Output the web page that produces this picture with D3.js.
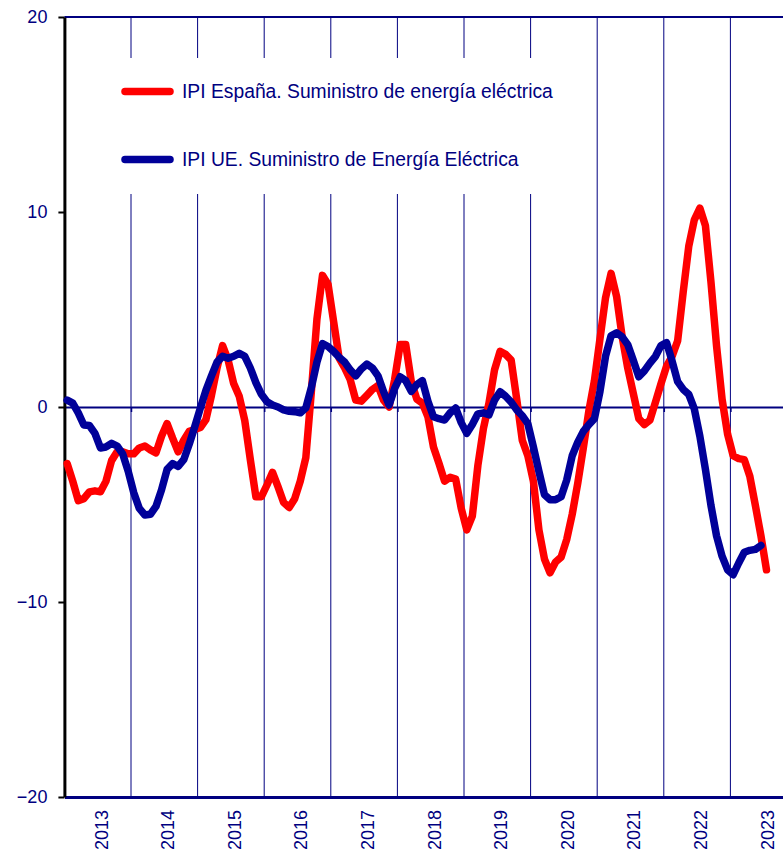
<!DOCTYPE html>
<html>
<head>
<meta charset="utf-8">
<script src="https://cdnjs.cloudflare.com/ajax/libs/d3/7.8.5/d3.min.js"></script>
<style>
  body { margin: 0; background: #fff; }
  text { font-family: "Liberation Sans", Arial, sans-serif; }
</style>
</head>
<body>
<div id="chart"></div>
<script>
// monthly series, Jan 2013 onwards (% variation)
var spain = [
  -2.9, -3.8, -4.8, -4.7, -4.35, -4.3, -4.35, -3.8, -2.75, -2.3, -2.3, -2.4,
  -2.4, -2.1, -2.0, -2.2, -2.35, -1.5, -0.85, -1.6, -2.3, -1.7, -1.25, -1.15,
  -1.05, -0.65, 0.6, 2.0, 3.15, 2.4, 1.2, 0.55, -0.7, -2.7, -4.6, -4.6,
  -4.0, -3.35, -4.1, -4.9, -5.15, -4.7, -3.8, -2.6, 0.8, 4.5, 6.75, 6.3,
  4.4, 2.5, 2.0, 1.4, 0.35, 0.3, 0.6, 0.9, 1.1, 0.35, 0.0, 1.4,
  3.2, 3.2, 1.3, 0.4, 0.2, -0.5, -2.05, -2.9, -3.8, -3.6, -3.7, -5.2,
  -6.3, -5.6, -3.0, -1.1, 0.2, 1.9, 2.85, 2.7, 2.4, 0.4, -1.7, -2.5,
  -3.8, -6.3, -7.8, -8.5, -7.95, -7.7, -6.8, -5.5, -3.9, -2.1, -0.2, 1.35,
  3.5, 5.6, 6.85, 5.66, 3.6, 2.0, 0.7, -0.6, -0.9, -0.67, 0.25, 1.2,
  2.1, 2.6, 3.4, 5.9, 8.25, 9.6, 10.2, 9.3, 6.4, 3.15, 0.4, -1.4,
  -2.5, -2.65, -2.7, -3.55, -5.05, -6.6, -8.35
];

var ue = [
  0.35, 0.2, -0.3, -0.92, -0.95, -1.35, -2.1, -2.05, -1.86, -2.0, -2.4, -3.3,
  -4.4, -5.2, -5.54, -5.5, -5.1, -4.25, -3.2, -2.9, -3.05, -2.7, -1.9, -1.0,
  -0.05, 0.85, 1.6, 2.3, 2.6, 2.5, 2.6, 2.75, 2.6, 2.0, 1.25, 0.65,
  0.27, 0.1, 0.0, -0.15, -0.22, -0.24, -0.3, -0.05, 1.0, 2.3, 3.25, 3.1,
  2.85, 2.55, 2.3, 1.9, 1.6, 1.95, 2.2, 2.0, 1.6, 0.8, 0.1, 0.95,
  1.55, 1.35, 0.8, 1.15, 1.35, 0.3, -0.5, -0.6, -0.67, -0.3, -0.05, -0.8,
  -1.35, -0.9, -0.35, -0.3, -0.4, 0.35, 0.78, 0.55, 0.25, -0.15, -0.45, -0.85,
  -2.05, -3.3, -4.5, -4.75, -4.75, -4.6, -3.75, -2.5, -1.8, -1.25, -0.9, -0.6,
  0.8, 2.6, 3.65, 3.8, 3.6, 3.2, 2.4, 1.55, 1.85, 2.25, 2.6, 3.15,
  3.3, 2.35, 1.3, 0.9, 0.65, -0.1, -1.5, -3.2, -5.05, -6.6, -7.65, -8.35,
  -8.6, -8.0, -7.45, -7.35, -7.3, -7.1
];

var years = [2013, 2014, 2015, 2016, 2017, 2018, 2019, 2020, 2021, 2022, 2023];
var yTicks = [-20, -10, 0, 10, 20];
var legendLabels = ["IPI España. Suministro de energía eléctrica",
                    "IPI UE. Suministro de Energía Eléctrica"];

var startYear = 2013;
var navy = "#000080";
var red = "#ff0000";
var blue = "#000099";

var svg = d3.select("#chart")
    .append("svg")
    .attr("width", 783)
    .attr("height", 856);

// plot runs past the right edge, like the original
var x = d3.scaleLinear()
    .domain([2013, 2024])
    .range([64.4, 797]);

var y = d3.scaleLinear()
    .domain([-20, 20])
    .range([797, 17]);

// ---- GRID (year boundaries) ---- //
svg.append("g")
    .selectAll("line")
    .data(years.slice(1))
    .enter().append("line")
    .attr("x1", function(d) { return x(d); })
    .attr("x2", function(d) { return x(d); })
    .attr("y1", y(20))
    .attr("y2", y(-20))
    .attr("stroke", navy)
    .attr("stroke-width", 1);

// top border
svg.append("line")
    .attr("x1", x(2013)).attr("x2", 783)
    .attr("y1", y(20)).attr("y2", y(20))
    .attr("stroke", navy).attr("stroke-width", 2);

// legend box hides the grid behind it
svg.append("rect")
    .attr("x", x(2013) + 2)
    .attr("y", 58)
    .attr("width", 510)
    .attr("height", 136)
    .attr("fill", "#fff");

// ---- ZERO LINE with small ticks ---- //
var zeroAxis = d3.axisBottom(x)
    .tickValues(years.slice(1))
    .tickSizeInner(5)
    .tickSizeOuter(0)
    .tickFormat("");

svg.append("g")
    .attr("transform", "translate(0," + y(0) + ")")
    .call(zeroAxis)
    .call(function(g) {
      g.select(".domain").attr("stroke", navy).attr("stroke-width", 2);
      g.selectAll(".tick line").attr("stroke", navy).attr("stroke-width", 1.5);
    });

// ---- BOTTOM AXIS: year labels in middle of each year ---- //
var bottomAxis = d3.axisBottom(x)
    .tickValues(years.map(function(d) { return d + 0.5; }))
    .tickSize(0)
    .tickFormat(function(d) { return String(Math.floor(d)); });

svg.append("g")
    .attr("transform", "translate(0," + y(-20) + ")")
    .call(bottomAxis)
    .call(function(g) {
      g.select(".domain").attr("stroke", navy).attr("stroke-width", 3);
      g.selectAll(".tick text")
        .attr("fill", navy)
        .attr("font-size", 18)
        .attr("text-anchor", "end")
        .attr("y", 0)
        .attr("dy", "0.36em")
        .attr("transform", "translate(3,13) rotate(-90)");
    });

// ---- LEFT AXIS ---- //
var leftAxis = d3.axisLeft(y)
    .tickValues(yTicks)
    .tickSizeInner(6)
    .tickSizeOuter(0)
    .tickPadding(11)
    .tickFormat(d3.format("d"));

svg.append("g")
    .attr("transform", "translate(" + x(2013) + ",0)")
    .call(leftAxis)
    .call(function(g) {
      g.select(".domain").attr("stroke", "#000").attr("stroke-width", 3);
      g.selectAll(".tick line").attr("stroke", "#000").attr("stroke-width", 2);
      g.selectAll(".tick text")
        .attr("fill", navy)
        .attr("font-size", 18)
        .attr("font-family", "Liberation Sans, Arial, sans-serif");
    });

// ---- LINES ---- //
var line = d3.line()
    .x(function(d, i) { return x(startYear + (i + 0.5) / 12); })
    .y(function(d) { return y(d); });

var series = [
  { values: spain, color: red, label: legendLabels[0] },
  { values: ue, color: blue, label: legendLabels[1] }
];

svg.selectAll(".series")
    .data(series)
    .enter().append("path")
    .attr("class", "series")
    .attr("d", function(d) { return line(d.values); })
    .attr("fill", "none")
    .attr("stroke", function(d) { return d.color; })
    .attr("stroke-width", 7.5)
    .attr("stroke-linejoin", "round")
    .attr("stroke-linecap", "round");

// ---- LEGEND ---- //
var legend = svg.selectAll(".legend")
    .data(series)
    .enter().append("g")
    .attr("class", "legend")
    .attr("transform", function(d, i) { return "translate(0," + (91.5 + i * 68) + ")"; });

legend.append("line")
    .attr("x1", 125).attr("x2", 170)
    .attr("y1", 0).attr("y2", 0)
    .attr("stroke", function(d) { return d.color; })
    .attr("stroke-width", 7.5)
    .attr("stroke-linecap", "round");

legend.append("text")
    .attr("x", 182)
    .attr("y", 0)
    .attr("dy", "0.36em")
    .attr("fill", navy)
    .attr("font-size", 19.3)
    .text(function(d) { return d.label; });
</script>
</body>
</html>
